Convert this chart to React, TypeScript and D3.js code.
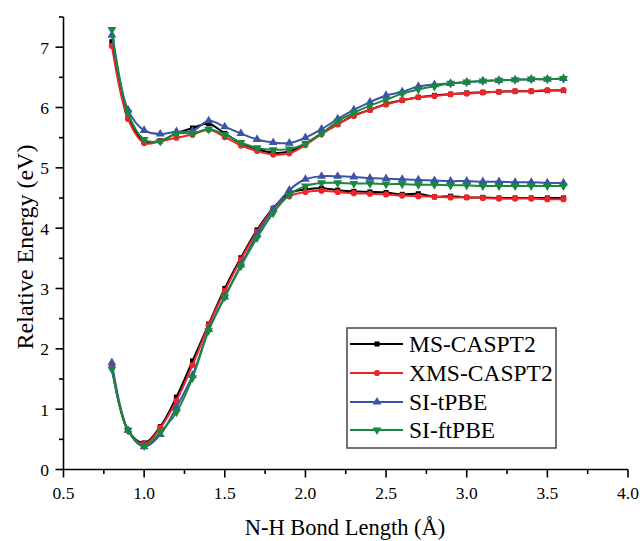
import React from "react";
import * as d3 from "d3";

const bondLengths = [0.8,0.9,1.0,1.1,1.2,1.3,1.4,1.5,1.6,1.7,1.8,1.9,2.0,2.1,2.2,2.3,2.4,2.5,2.6,2.7,2.8,2.9,3.0,3.1,3.2,3.3,3.4,3.5,3.6];

const msGround = [1.70,0.65,0.44,0.71,1.20,1.80,2.41,3.00,3.51,3.97,4.33,4.58,4.64,4.66,4.63,4.61,4.60,4.59,4.56,4.57,4.52,4.53,4.51,4.51,4.50,4.50,4.50,4.50,4.50];
const xmsGround = [1.71,0.65,0.42,0.69,1.14,1.73,2.39,2.96,3.48,3.94,4.32,4.53,4.60,4.62,4.60,4.58,4.57,4.56,4.54,4.53,4.52,4.51,4.51,4.50,4.49,4.49,4.49,4.48,4.48];
const tpbeGround = [1.77,0.65,0.38,0.58,1.03,1.56,2.32,2.86,3.39,3.89,4.31,4.63,4.81,4.86,4.86,4.85,4.83,4.82,4.81,4.80,4.79,4.78,4.78,4.77,4.77,4.76,4.76,4.75,4.75];
const ftpbeGround = [1.66,0.65,0.39,0.62,0.95,1.52,2.30,2.86,3.37,3.84,4.25,4.55,4.70,4.75,4.75,4.74,4.74,4.73,4.73,4.72,4.72,4.71,4.71,4.70,4.70,4.70,4.70,4.70,4.70];

const msExcited = [7.09,5.85,5.44,5.45,5.57,5.66,5.73,5.57,5.41,5.31,5.25,5.27,5.40,5.57,5.72,5.87,5.96,6.06,6.12,6.17,6.20,6.22,6.24,6.25,6.26,6.27,6.27,6.28,6.28];
const xmsExcited = [7.02,5.81,5.41,5.44,5.50,5.55,5.63,5.51,5.37,5.28,5.22,5.24,5.38,5.56,5.72,5.86,5.96,6.05,6.12,6.17,6.19,6.22,6.23,6.25,6.26,6.27,6.27,6.29,6.29];
const tpbeExcited = [7.20,5.96,5.62,5.56,5.60,5.61,5.78,5.68,5.57,5.47,5.42,5.41,5.50,5.64,5.81,5.96,6.09,6.20,6.26,6.35,6.38,6.40,6.42,6.44,6.45,6.46,6.47,6.47,6.48];
const ftpbeExcited = [7.29,5.91,5.47,5.44,5.57,5.57,5.64,5.55,5.42,5.33,5.30,5.31,5.40,5.57,5.77,5.91,6.03,6.13,6.23,6.30,6.35,6.40,6.42,6.44,6.45,6.46,6.47,6.47,6.48];

const seriesNames = ["MS-CASPT2", "XMS-CASPT2", "SI-tPBE", "SI-ftPBE"];
const seriesColors = ["#000000", "#ee2428", "#3b54a5", "#17893d"];
const seriesSymbols = [d3.symbolSquare, d3.symbolCircle, d3.symbolTriangle, d3.symbolTriangle];
const seriesData = [
  [msGround, msExcited],
  [xmsGround, xmsExcited],
  [tpbeGround, tpbeExcited],
  [ftpbeGround, ftpbeExcited],
];

const xTicks = [0.5, 1.0, 1.5, 2.0, 2.5, 3.0, 3.5, 4.0];
const xMinorTicks = [0.75, 1.25, 1.75, 2.25, 2.75, 3.25, 3.75];
const yTicks = [0, 1, 2, 3, 4, 5, 6, 7];
const yMinorTicks = [0.5, 1.5, 2.5, 3.5, 4.5, 5.5, 6.5, 7.5];

const FONT = "Liberation Serif";

export default function App() {
  const x = d3.scaleLinear().domain([0.5, 4.0]).range([63.5, 628]);
  const y = d3.scaleLinear().domain([0, 7.5]).range([469.5, 17]);
  const line = d3
    .line<[number, number]>()
    .x((d) => x(d[0]))
    .y((d) => y(d[1]))
    .curve(d3.curveCatmullRom.alpha(0.5));

  const symbolPath = (i: number, size: number) =>
    d3.symbol().type(seriesSymbols[i]).size(size)() as string;
  const symSizes = [26, 30, 34, 34];
  const rot = (i: number) => (i === 3 ? " rotate(180)" : "");

  const legendY = [344, 373, 402, 430];
  const ts = (size: number) => ({ fontFamily: FONT, fontSize: size + "px" });

  return (
    <svg width={640} height={541} style={{ position: "absolute", left: 0, top: 0, background: "#fff" }}>
      <rect x={0} y={0} width={640} height={541} fill="#fff" />
      {seriesData.map((pair, i) => (
        <g key={i}>
          {pair.map((vals, k) => {
            const pts = bondLengths.map((b, j) => [b, vals[j]] as [number, number]);
            return (
              <g key={k}>
                <path d={line(pts) as string} fill="none" stroke={seriesColors[i]} strokeWidth={2} />
                {pts.map((p, j) => (
                  <path
                    key={j}
                    d={symbolPath(i, symSizes[i])}
                    transform={`translate(${x(p[0])},${y(p[1])})${rot(i)}`}
                    fill={seriesColors[i]}
                  />
                ))}
              </g>
            );
          })}
        </g>
      ))}

      {/* axes */}
      <line x1={x(0.5)} x2={x(0.5)} y1={y(7.5)} y2={y(0)} stroke="#000" strokeWidth={1.6} />
      <line x1={x(0.5)} x2={x(4.0)} y1={y(0)} y2={y(0)} stroke="#000" strokeWidth={1.6} />
      {xTicks.map((t) => (
        <g key={"xt" + t}>
          <line x1={x(t)} x2={x(t)} y1={y(0)} y2={y(0) + 8} stroke="#000" strokeWidth={1.6} />
          <text x={x(t)} y={499} textAnchor="middle" style={ts(17.5)}>
            {t.toFixed(1)}
          </text>
        </g>
      ))}
      {xMinorTicks.map((t) => (
        <line key={"xm" + t} x1={x(t)} x2={x(t)} y1={y(0)} y2={y(0) + 4.5} stroke="#000" strokeWidth={1.6} />
      ))}
      {yTicks.map((t) => (
        <g key={"yt" + t}>
          <line x1={x(0.5) - 8} x2={x(0.5)} y1={y(t)} y2={y(t)} stroke="#000" strokeWidth={1.6} />
          <text x={49} y={y(t) + 6.5} textAnchor="end" style={ts(17.5)}>
            {t}
          </text>
        </g>
      ))}
      {yMinorTicks.map((t) => (
        <line key={"ym" + t} x1={x(0.5) - 4.5} x2={x(0.5)} y1={y(t)} y2={y(t)} stroke="#000" strokeWidth={1.6} />
      ))}

      <text x={345} y={535} textAnchor="middle" style={ts(22.5)}>
        N-H Bond Length (Å)
      </text>
      <text transform={`translate(33,247) rotate(-90)`} textAnchor="middle" style={ts(24)}>
        Relative Energy (eV)
      </text>

      {/* legend */}
      <rect x={347} y={328} width={209} height={120} fill="#fff" stroke="#444" strokeWidth={1.5} />
      {seriesNames.map((name, i) => (
        <g key={name}>
          <line x1={350} x2={403} y1={legendY[i]} y2={legendY[i]} stroke={seriesColors[i]} strokeWidth={2} />
          <path
            d={symbolPath(i, symSizes[i])}
            transform={`translate(377,${legendY[i]})${rot(i)}`}
            fill={seriesColors[i]}
          />
          <text x={409} y={legendY[i] + 8} style={ts(23.5)}>
            {name}
          </text>
        </g>
      ))}
    </svg>
  );
}
